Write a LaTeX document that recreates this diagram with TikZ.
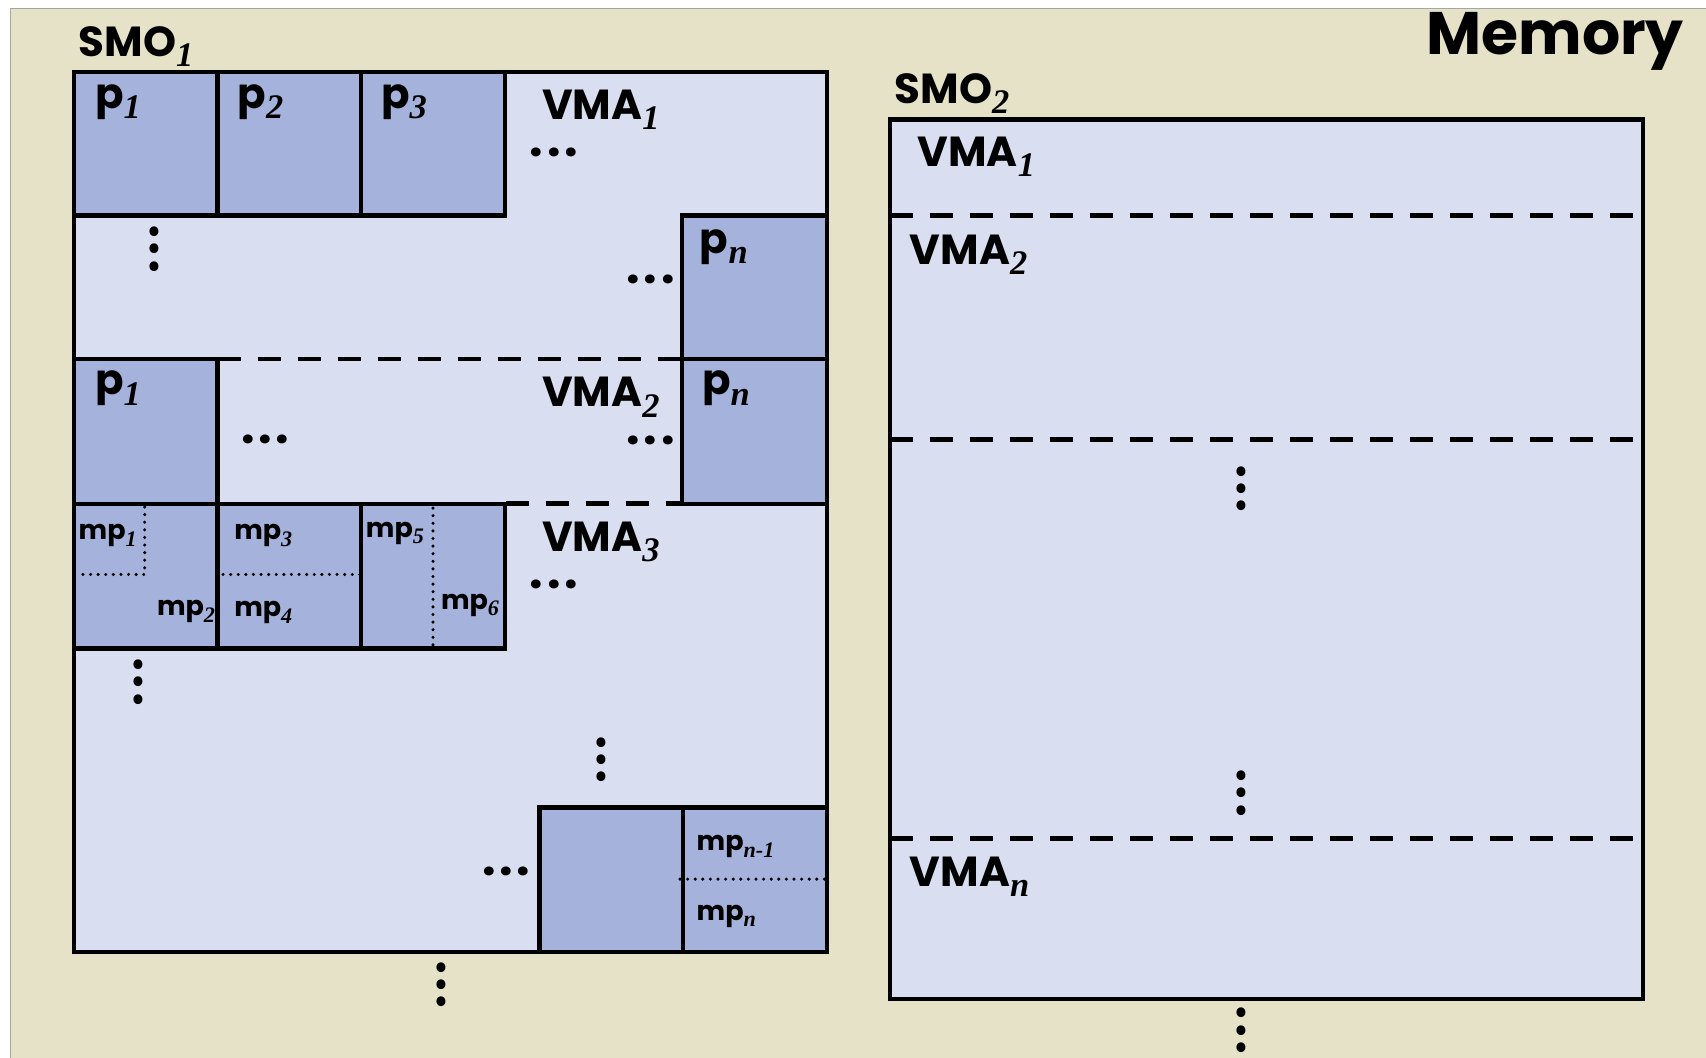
\documentclass[tikz,border=0pt]{standalone}
\usepackage{fontspec}
\setmainfont{Poppins}
\newfontfamily\idxfont{Liberation Serif}
% italic serif index, set a little below the baseline
\newcommand{\idx}[1]{\raisebox{-0.24em}{\idxfont\itshape\scalebox{0.82}{#1}}}
\newcommand{\ddd}{.\kern1.8pt.\kern1.8pt.}
\definecolor{memback}{RGB}{229,226,200}
\definecolor{vmafill}{RGB}{217,223,240}
\definecolor{pagefill}{RGB}{165,179,220}

\begin{document}
\begin{tikzpicture}[x=0.544pt,y=-0.544pt,
    box/.style={line width=2.2pt},
    page/.style={box,fill=pagefill},
    cut/.style={line width=2.4pt,dash pattern=on 11.5pt off 8.5pt},
    split/.style={line width=1.7pt,dash pattern=on 0pt off 3.8pt,line cap=round},
    lbl/.style={anchor=base west,inner sep=0pt,font=\bfseries\fontsize{21}{21}\selectfont},
    mplbl/.style={lbl,font=\bfseries\fontsize{13.5}{14}\selectfont},
    dots/.style={inner sep=0pt,font=\bfseries\fontsize{24}{24}\selectfont}]

    \useasboundingbox (0,0) rectangle (1568,972);
    \fill[white] (0,0) rectangle (1568,972);
    \fill[memback] (10,8) rectangle (1568,972);
    \draw[gray!70] (10,972) -- (10,8) -- (1568,8);
    \node[lbl,anchor=base east,font=\bfseries\fontsize{30}{30}\selectfont] (memory) at (1548,50) {Memory};

    % SMO 1
    \draw[box,fill=vmafill] (68,66) rectangle (760,875);
    \foreach \x in {68,200,332} \draw[page] (\x,66) rectangle ++(132,132);
    \draw[page] (627,198) rectangle (760,330);
    \draw[page] (68,330) rectangle (200,463);
    \draw[page] (627,330) rectangle (760,463);
    \foreach \x in {68,200,332} \draw[page] (\x,463) rectangle ++(132,133);
    \draw[page] (496,742) rectangle (628,875);
    \draw[page] (628,742) rectangle (760,875);
    \draw[cut] (200,330) -- (627,330);
    \draw[cut] (465,463) -- (627,463);

    \draw[split] (133,466) -- (133,528) -- (72,528);
    \draw[split] (205,528) -- (335,528);
    \draw[split] (398,467) -- (398,596);
    \draw[split] (625,808) -- (762,808);

    \node[lbl] (smo1) at (72,52) {SMO\idx{1}};
    \node[lbl] (p11) at (87,100) {p\idx{1}};
    \node[lbl] (p12) at (218,100) {p\idx{2}};
    \node[lbl] (p13) at (350,100) {p\idx{3}};
    \node[lbl] (vma11) at (498,110) {VMA\idx{1}};
    \node[dots] (d11) at (509,140) {\ddd};
    \node[dots,rotate=90] (d12) at (142,229) {\ddd};
    \node[dots] (d13) at (598,257) {\ddd};
    \node[lbl] (p1n) at (643,233) {p\idx{n}};

    \node[lbl] (p21) at (87,363) {p\idx{1}};
    \node[lbl] (vma12) at (498,374) {VMA\idx{2}};
    \node[lbl] (p2n) at (645,363) {p\idx{n}};
    \node[dots] (d21) at (244,404) {\ddd};
    \node[dots] (d22) at (598,405) {\ddd};

    \node[mplbl] (mp1) at (72,496) {mp\idx{1}};
    \node[mplbl,anchor=base east] (mp2) at (198,566) {mp\idx{2}};
    \node[mplbl] (mp3) at (215,496) {mp\idx{3}};
    \node[mplbl] (mp4) at (215,567) {mp\idx{4}};
    \node[mplbl] (mp5) at (336,494) {mp\idx{5}};
    \node[mplbl] (mp6) at (405,560) {mp\idx{6}};
    \node[lbl] (vma13) at (498,507) {VMA\idx{3}};
    \node[dots] (d31) at (509,537) {\ddd};
    \node[dots,rotate=90] (d32) at (127,627) {\ddd};
    \node[dots,rotate=90] (d33) at (553,698) {\ddd};
    \node[dots] (d34) at (465,801) {\ddd};
    \node[mplbl] (mpm) at (640,782) {mp\idx{n-1}};
    \node[mplbl] (mpn) at (640,846) {mp\idx{n}};
    \node[dots,rotate=90] (d35) at (406,905) {\ddd};

    % SMO 2
    \draw[box,fill=vmafill] (818,110) rectangle (1510,918);
    \foreach \y in {198,404,771} \draw[cut] (818,\y) -- (1510,\y);
    \node[lbl] (smo2) at (822,95) {SMO\idx{2}};
    \node[lbl] (vma21) at (843,153) {VMA\idx{1}};
    \node[lbl] (vma22) at (836,243) {VMA\idx{2}};
    \node[dots,rotate=90] (d41) at (1141,449) {\ddd};
    \node[dots,rotate=90] (d42) at (1141,729) {\ddd};
    \node[lbl] (vma2n) at (836,815) {VMA\idx{n}};
    \node[dots,rotate=90] (d43) at (1141,947) {\ddd};

\end{tikzpicture}
\end{document}
